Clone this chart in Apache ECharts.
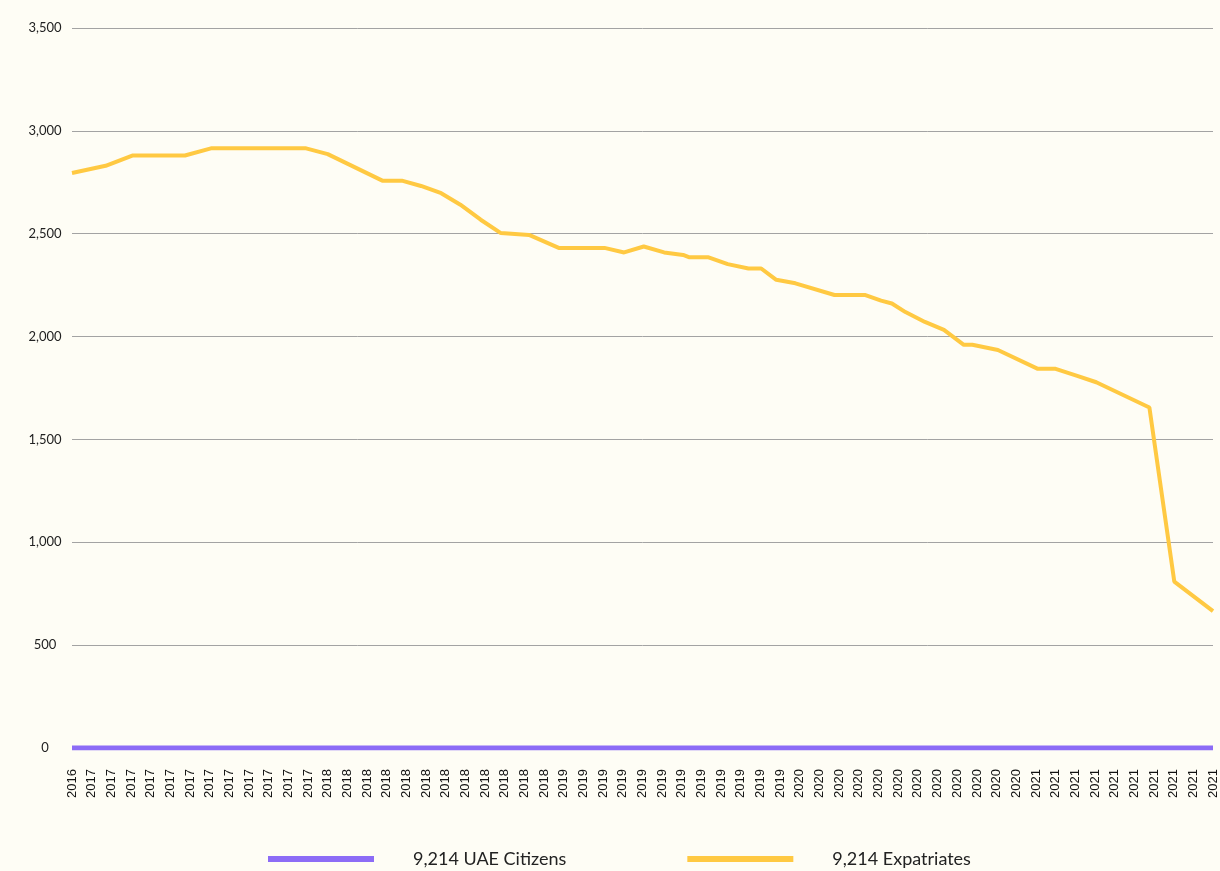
<!DOCTYPE html>
<html>
<head>
<meta charset="utf-8">
<script src="https://cdn.jsdelivr.net/npm/echarts@6/dist/echarts.min.js"></script>
<style>
  html, body { margin: 0; padding: 0; background: #fefdf5; }
  #chart { width: 1220px; height: 871px; }
</style>
</head>
<body>
<div id="chart"></div>
<script>
const dates = [
  '2016-12-01','2017-01-23','2017-03-03','2017-05-24','2017-07-03','2017-11-28',
  '2018-01-01','2018-03-25','2018-04-24','2018-05-24','2018-06-24','2018-07-24',
  '2018-08-25','2018-09-25','2018-11-08','2018-12-24','2019-03-03','2019-04-03',
  '2019-05-03','2019-06-04','2019-07-03','2019-07-12','2019-08-11','2019-09-11',
  '2019-10-13','2019-11-02','2019-11-25','2019-12-25','2020-02-23','2020-04-11',
  '2020-05-05','2020-05-22','2020-06-12','2020-07-12','2020-08-11','2020-09-11',
  '2020-09-24','2020-11-03','2021-01-04','2021-02-01','2021-03-04','2021-04-03',
  '2021-06-24','2021-08-02','2021-10-01'
];
const expatriates = [
  2795, 2830, 2880, 2880, 2915, 2915,
  2887, 2758, 2758, 2732, 2697, 2641,
  2568, 2503, 2494, 2431, 2431, 2409,
  2438, 2409, 2397, 2386, 2386, 2352,
  2331, 2331, 2276, 2259, 2202, 2202,
  2175, 2161, 2119, 2071, 2033, 1960,
  1960, 1935, 1843, 1843, 1809, 1778,
  1655, 809, 665
];
const uaeCitizens = [
  0,0,0,0,0,0, 0,0,0,0,0,0, 0,0,0,0,0,0, 0,0,0,0,0,0,
  0,0,0,0,0,0, 0,0,0,0,0,0, 0,0,0,0,0,0, 0,0,0
];
// Monthly tick labels (Dec 2016 .. Oct 2021)
const xTickLabels = [
  '2016',
  '2017','2017','2017','2017','2017','2017','2017','2017','2017','2017','2017','2017',
  '2018','2018','2018','2018','2018','2018','2018','2018','2018','2018','2018','2018',
  '2019','2019','2019','2019','2019','2019','2019','2019','2019','2019','2019','2019',
  '2020','2020','2020','2020','2020','2020','2020','2020','2020','2020','2020','2020',
  '2021','2021','2021','2021','2021','2021','2021','2021','2021','2021'
];
const seriesNames = ['9,214 UAE Citizens', '9,214 Expatriates'];
const yMin = 0, yMax = 3500, yStep = 500;

// month offset from the first tick (Dec 2016)
function monthIndex(s) {
  const [Y, M, D] = s.split('-').map(Number);
  const dim = new Date(Y, M, 0).getDate();
  return (Y - 2016) * 12 + (M - 12) + (D - 1) / dim;
}
const xs = dates.map(monthIndex);
const pairs = vals => vals.map((v, i) => [xs[i], v]);

const chart = echarts.init(document.getElementById('chart'), null, { renderer: 'canvas' });
chart.setOption({
  backgroundColor: '#fefdf5',
  animation: false,
  grid: { left: 72, right: 7, top: 28, bottom: 123, containLabel: false },
  xAxis: {
    type: 'value',
    min: 0, max: xTickLabels.length - 1, interval: 1,
    axisLine: { show: false },
    axisTick: { show: false },
    splitLine: { show: false },
    axisLabel: {
      rotate: 90,
      margin: 21,
      fontFamily: 'Liberation Sans, Arial, sans-serif',
      fontSize: 13,
      color: '#111',
      formatter: v => xTickLabels[Math.round(v)] || ''
    }
  },
  yAxis: {
    type: 'value',
    min: yMin, max: yMax, interval: yStep,
    axisLine: { show: false },
    axisTick: { show: false },
    splitLine: { lineStyle: { color: '#a3a3a3', width: 1 } },
    axisLabel: {
      align: 'center',
      margin: 27,
      fontFamily: 'Lato, sans-serif',
      fontSize: 13,
      color: '#222',
      formatter: v => v.toLocaleString('en-US')
    }
  },
  legend: {
    left: 263, top: 845,
    itemWidth: 106, itemHeight: 6, itemGap: 121,
    icon: 'rect',
    textStyle: { fontFamily: 'Lato, sans-serif', fontSize: 18, color: '#222', padding: [0, 0, 0, 34] },
    data: seriesNames
  },
  series: [
    {
      name: seriesNames[0], type: 'line', data: pairs(uaeCitizens),
      showSymbol: false, symbol: 'none',
      lineStyle: { color: '#8c6cf6', width: 5 }, itemStyle: { color: '#8c6cf6' }, z: 3
    },
    {
      name: seriesNames[1], type: 'line', data: pairs(expatriates),
      showSymbol: false, symbol: 'none',
      lineStyle: { color: '#ffc942', width: 4 }, itemStyle: { color: '#ffc942' }, z: 4
    }
  ]
});
</script>
</body>
</html>
